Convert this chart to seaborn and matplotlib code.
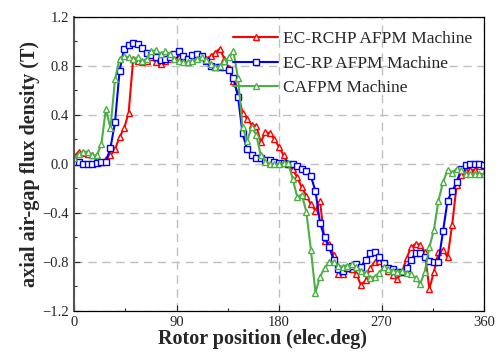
import numpy as np
import pandas as pd
import matplotlib
matplotlib.use("Agg")
import matplotlib.pyplot as plt
import seaborn as sns

# rotor position grid (elec. deg) and flux density (T)
position = list(range(0, 361, 4))

ec_rchp = [0.06, 0.10, 0.09, 0.08, 0.07, 0.03, 0.02, 0.04, 0.07, 0.12,
           0.22, 0.29, 0.42, 0.86, 0.84, 0.83, 0.84, 0.87, 0.83, 0.82,
           0.84, 0.86, 0.87, 0.87, 0.86, 0.86, 0.87, 0.87, 0.87, 0.86,
           0.88, 0.91, 0.94, 0.86, 0.78, 0.68, 0.57, 0.42, 0.37, 0.32,
           0.31, 0.18, 0.26, 0.25, 0.20, 0.14, 0.07, 0.00, -0.04, -0.11,
           -0.19, -0.26, -0.33, -0.38, -0.30, -0.63, -0.65, -0.74, -0.90, -0.90,
           -0.85, -0.86, -0.90, -0.99, -0.95, -0.85, -0.80, -0.79, -0.82, -0.87,
           -0.91, -0.94, -0.88, -0.77, -0.68, -0.65, -0.66, -0.72, -1.02, -0.88,
           -0.72, -0.70, -0.76, -0.50, -0.17, -0.09, -0.06, -0.05, -0.05, -0.02,
           -0.02]

ec_rp = [0.02, 0.02, 0.00, 0.00, 0.00, 0.01, 0.02, 0.02, 0.13, 0.34,
         0.76, 0.94, 0.97, 0.99, 0.98, 0.95, 0.91, 0.89, 0.87, 0.85,
         0.86, 0.87, 0.90, 0.92, 0.88, 0.86, 0.89, 0.90, 0.88, 0.84,
         0.80, 0.79, 0.79, 0.79, 0.77, 0.70, 0.55, 0.25, 0.12, 0.07,
         0.05, 0.05, 0.03, 0.03, 0.02, 0.01, 0.01, 0.00, 0.00, -0.02,
         -0.04, -0.06, -0.10, -0.22, -0.48, -0.60, -0.68, -0.78, -0.86, -0.87,
         -0.85, -0.83, -0.82, -0.84, -0.78, -0.73, -0.72, -0.76, -0.81, -0.85,
         -0.86, -0.88, -0.88, -0.85, -0.78, -0.73, -0.73, -0.76, -0.79, -0.80,
         -0.80, -0.55, -0.30, -0.22, -0.15, -0.04, -0.01, 0.00, 0.00, 0.00,
         -0.01]

cafpm = [0.05, 0.08, 0.10, 0.10, 0.07, 0.07, 0.16, 0.45, 0.29, 0.69,
         0.86, 0.88, 0.87, 0.86, 0.87, 0.84, 0.86, 0.92, 0.93, 0.90,
         0.92, 0.90, 0.86, 0.84, 0.83, 0.83, 0.84, 0.86, 0.87, 0.85,
         0.82, 0.79, 0.80, 0.84, 0.87, 0.92, 0.70, 0.30, 0.19, 0.30,
         0.24, 0.07, 0.02, 0.00, 0.00, 0.00, 0.01, 0.01, -0.12, -0.27,
         -0.25, -0.39, -0.70, -1.05, -0.92, -0.85, -0.80, -0.80, -0.83, -0.84,
         -0.83, -0.82, -0.84, -0.87, -0.89, -0.93, -0.92, -0.89, -0.84, -0.86,
         -0.87, -0.88, -0.87, -0.89, -0.90, -0.93, -0.98, -0.88, -0.68, -0.54,
         -0.30, -0.15, -0.05, -0.07, -0.04, -0.05, -0.08, -0.08, -0.08, -0.08,
         -0.08]

labels = ["EC-RCHP AFPM Machine", "EC-RP AFPM Machine", "CAFPM Machine"]
colors = ["#ff0000", "#0000ff", "#4caf45"]
markers = ["^", "s", "^"]

sns.set_style("ticks")
plt.rcParams["font.family"] = ["Liberation Serif", "DejaVu Serif"]
plt.rcParams["xtick.direction"] = "in"
plt.rcParams["ytick.direction"] = "in"

fig = plt.figure(figsize=(5, 3.54), dpi=100)
ax = fig.add_axes([0.148, 0.1215, 0.82, 0.8305])

for vals, lab, col, mk in zip([ec_rchp, ec_rp, cafpm], labels, colors, markers):
    sns.lineplot(x=position, y=vals, ax=ax, color=col, label=lab,
                 marker=mk, markersize=4.5, markerfacecolor="white",
                 markeredgecolor=col, markeredgewidth=1.0, linewidth=1.5)

ax.set_xlim(0, 360)
ax.set_ylim(-1.2, 1.2)
ax.set_xticks([0, 90, 180, 270, 360])
ax.set_xticks([45, 135, 225, 315], minor=True)
ax.set_yticks(np.arange(-1.2, 1.21, 0.4))
ax.set_yticks(np.arange(-1.0, 1.1, 0.4), minor=True)
ax.set_yticklabels(["\u22121.2", "\u22120.8", "\u22120.4", "0.0", "0.4", "0.8", "1.2"])
ax.tick_params(labelsize=10.5, length=4, width=0.8)
ax.tick_params(which="minor", length=2.5, width=0.8)
ax.grid(True, which="major", linestyle=(0, (6, 4)), color="#c0c0c0", linewidth=1.0)

for s in ax.spines.values():
    s.set_visible(True)
    s.set_linewidth(0.9)
    s.set_color("black")
ax.spines["left"].set_color("#555555")
ax.spines["left"].set_linewidth(1.5)

ax.set_xlabel("Rotor position (elec.deg)", fontsize=14.5, fontweight="bold", labelpad=0)
ax.xaxis.label.set_x(0.46)
ax.set_ylabel("axial air-gap flux density (T)", fontsize=14.5, fontweight="bold", labelpad=2)

ax.legend(loc="upper right", bbox_to_anchor=(1.0, 0.995), frameon=False,
          fontsize=12.5, handlelength=2.6, labelspacing=0.5,
          handletextpad=0.25, borderaxespad=0.3)

fig.savefig("out.png", dpi=100)
